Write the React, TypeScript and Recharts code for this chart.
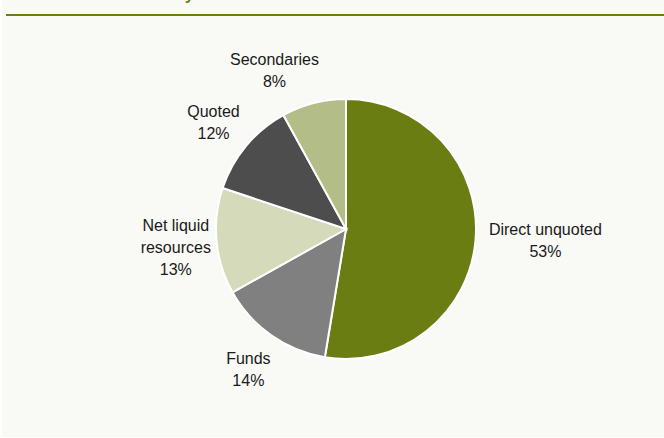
import React from "react";
import { PieChart, Pie, Cell } from "recharts";

const categories = ["Direct unquoted", "Funds", "Net liquid resources", "Quoted", "Secondaries"];
// shares; labels show them rounded
const shares = [52.6, 14.3, 13.2, 11.9, 8.0];

const colors = ["#6a7d12", "#808080", "#d5dabb", "#4d4d4d", "#b3bd88"];

// small hand-tuned label nudges, like Excel's manual placement
const labelNudges = [
  { dx: 25, dy: -8 },
  { dx: 3, dy: -8 },
  { dx: 4, dy: -14 },
  { dx: 2, dy: 0 },
  { dx: -28, dy: 6 },
];

const labelLines: Record<string, string[]> = {
  "Net liquid resources": ["Net liquid", "resources"],
};

const data = categories.map((name, i) => ({ name, value: shares[i] }));

const RADIAN = Math.PI / 180;
const FONT = "'Liberation Sans', Arial, sans-serif";

const renderLabel = (props: any) => {
  const { cx, cy, midAngle, outerRadius, index, name, value } = props;
  const r = outerRadius + 45;
  const nudge = labelNudges[index] || { dx: 0, dy: 0 };
  const x = cx + r * Math.cos(-midAngle * RADIAN) + nudge.dx;
  const y = cy + r * Math.sin(-midAngle * RADIAN) + nudge.dy;
  const lines = [...(labelLines[name] || [name]), `${Math.round(value)}%`];
  return (
    <text x={x} y={y} textAnchor="middle" fill="#1a1a1a" fontSize={16} fontFamily={FONT}>
      {lines.map((line, i) => (
        <tspan key={i} x={x} dy={i === 0 ? 0 : 22}>
          {line}
        </tspan>
      ))}
    </text>
  );
};

export default function App() {
  return (
    <div style={{ position: "absolute", left: 0, top: 0, width: 664, height: 438, background: "#ffffff", overflow: "hidden" }}>
      <div style={{ position: "absolute", left: 2, top: 0, width: 662, height: 437, background: "#f9f9f5" }} />
      <div
        style={{
          position: "absolute",
          left: 40,
          top: -14,
          fontFamily: FONT,
          fontWeight: "bold",
          fontSize: 16,
          color: "#6a7d12",
          whiteSpace: "nowrap",
        }}
      >
        Chart 4: Portfolio by asset class
      </div>
      <div style={{ position: "absolute", left: 6, right: 0, top: 14, height: 1.5, background: "#6b7d0f" }} />
      <div style={{ position: "absolute", left: 0, top: 0 }}>
        <PieChart width={664} height={438} margin={{ top: 0, right: 0, bottom: 0, left: 0 }}>
          <Pie
            data={data}
            dataKey="value"
            nameKey="name"
            cx={346}
            cy={229}
            outerRadius={130}
            startAngle={90}
            endAngle={-270}
            stroke="#ffffff"
            strokeWidth={2}
            label={renderLabel}
            labelLine={false}
            isAnimationActive={false}
          >
            {data.map((entry, i) => (
              <Cell key={entry.name} fill={colors[i]} />
            ))}
          </Pie>
        </PieChart>
      </div>
    </div>
  );
}
